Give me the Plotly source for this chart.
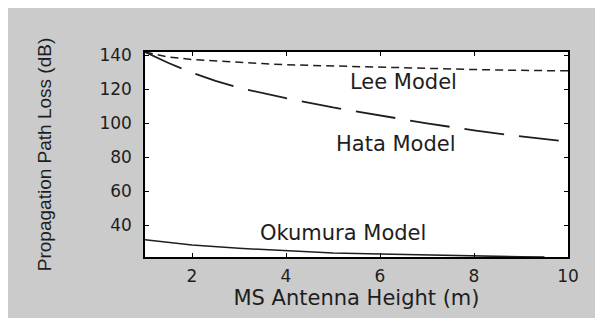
import plotly.graph_objects as go

# Data
heights = [1, 1.5, 2, 2.5, 3, 3.5, 4, 5, 6, 7, 8, 9, 10]
lee_loss = [141.8, 138.8, 137.4, 136.5, 135.8, 135.0, 134.3, 133.5, 132.8, 132.2, 131.5, 131.0, 130.7]
hata_loss = [141.8, 135.3, 129.6, 124.8, 120.7, 117.5, 114.6, 109.2, 104.3, 99.8, 95.7, 92.1, 89.0]

oku_heights = [1, 1.5, 2, 3, 4, 5, 6, 7, 8, 8.5, 9, 9.5]
oku_loss = [31.3, 29.6, 28.2, 26.3, 24.8, 23.6, 23.0, 22.4, 21.9, 21.4, 21.3, 21.25]

y_range = [21.2, 141.8]
x_range = [1, 10]
x_ticks = [2, 4, 6, 8, 10]
y_ticks = [40, 60, 80, 100, 120, 140]

labels = ["Lee Model", "Hata Model", "Okumura Model"]
label_x = [6.5, 6.35, 5.22]
label_y = [124.0, 87.8, 35.4]

ink = "#1e1e1e"

fig = go.Figure()
fig.add_trace(go.Scatter(x=heights, y=lee_loss, mode="lines", name="Lee",
                         line=dict(color=ink, width=1.5, dash="8px,5px")))
fig.add_trace(go.Scatter(x=heights, y=hata_loss, mode="lines", name="Hata",
                         line=dict(color=ink, width=1.8, dash="40px,15px")))
fig.add_trace(go.Scatter(x=oku_heights, y=oku_loss, mode="lines", name="Okumura",
                         line=dict(color=ink, width=1.5)))

for t, xx, yy in zip(labels, label_x, label_y):
    fig.add_annotation(x=xx, y=yy, text=t, showarrow=False, xanchor="center", yanchor="middle",
                       font=dict(family="DejaVu Sans", size=21, color=ink))

axis_common = dict(showline=True, linecolor="black", linewidth=1.5, mirror="ticks",
                   ticks="inside", ticklen=4, tickwidth=1, tickcolor="black",
                   showgrid=False, zeroline=False,
                   tickfont=dict(family="DejaVu Sans", size=17, color=ink))

fig.update_xaxes(range=x_range, tickvals=x_ticks, ticklabelstandoff=3,
                 title=dict(text="MS Antenna Height (m)", standoff=3,
                            font=dict(family="DejaVu Sans", size=21, color=ink)),
                 **axis_common)
fig.update_yaxes(range=y_range, tickvals=y_ticks, ticklabelstandoff=8,
                 title=dict(text="Propagation Path Loss (dB)", standoff=43,
                            font=dict(family="Liberation Sans", size=19, color=ink)),
                 **axis_common)

fig.update_layout(width=595, height=310, showlegend=False,
                  margin=dict(l=137, r=35, t=44, b=61, autoexpand=False),
                  paper_bgcolor="#cbcbcb", plot_bgcolor="white")

fig.write_html("out.html")
